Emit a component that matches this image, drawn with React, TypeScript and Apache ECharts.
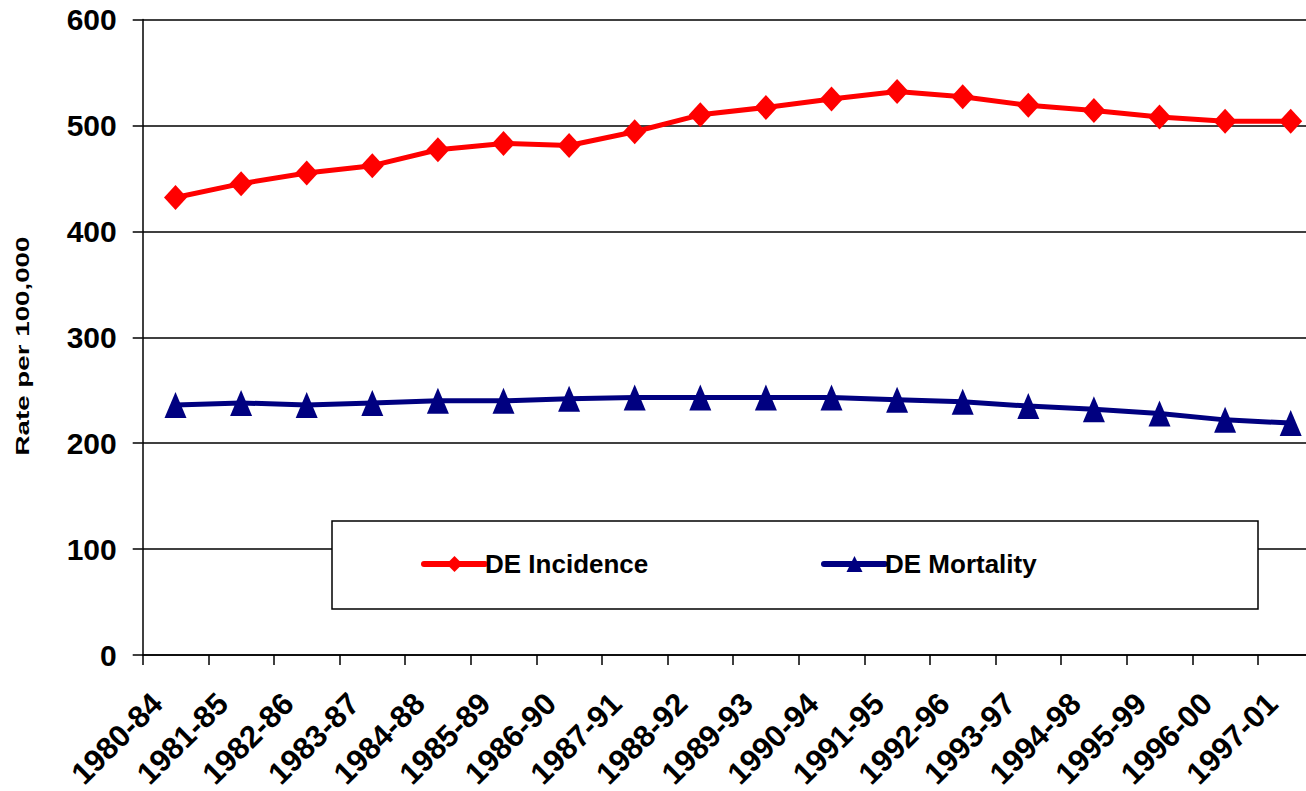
import React, { useEffect, useRef } from "react";
import * as echarts from "echarts";

const categories = [
  "1980-84", "1981-85", "1982-86", "1983-87", "1984-88", "1985-89",
  "1986-90", "1987-91", "1988-92", "1989-93", "1990-94", "1991-95",
  "1992-96", "1993-97", "1994-98", "1995-99", "1996-00", "1997-01",
];

const incidence = [432, 445, 455, 462, 477, 483, 481, 494, 510, 517, 525, 532, 527, 519, 514, 508, 504, 504];
const mortality = [236, 238, 236, 238, 240, 240, 242, 243, 243, 243, 243, 241, 239, 235, 232, 228, 222, 219];

const yTicks = { min: 0, max: 600, interval: 100 };
const FONT = "'Liberation Sans', Arial, Helvetica, sans-serif";

export default function App() {
  const ref = useRef<HTMLDivElement>(null);

  useEffect(() => {
    if (!ref.current) return;
    const chart = echarts.init(ref.current, null, { renderer: "svg" });
    const legendBase = {
      top: 551,
      padding: 0,
      itemWidth: 61,
      itemHeight: 20,
      itemGap: 5,
      z: 6,
      lineStyle: { width: 6, cap: "round" },
      textStyle: { color: "#000", fontSize: 26, fontWeight: "bold", fontFamily: FONT, padding: [0, 0, 0, -5] },
    };
    chart.setOption({
      animation: false,
      backgroundColor: "#ffffff",
      grid: {
        left: 142.7,
        width: 1180.8,
        top: 19.5,
        height: 635.5,
        containLabel: false,
        outerBoundsMode: "none",
      },
      xAxis: {
        type: "category",
        data: categories,
        boundaryGap: true,
        axisLine: { show: true, lineStyle: { color: "#000", width: 1.5 } },
        axisTick: { show: true, length: 10, interval: 0, alignWithLabel: false, lineStyle: { color: "#000", width: 1.5 } },
        axisLabel: {
          interval: 0,
          rotate: 45,
          margin: 25,
          padding: [0, 26, 0, 0],
          color: "#000",
          fontSize: 31,
          fontWeight: "bold",
          fontFamily: FONT,
          hideOverlap: false,
        },
        splitLine: { show: false },
      },
      yAxis: {
        type: "value",
        min: yTicks.min,
        max: yTicks.max,
        interval: yTicks.interval,
        axisLine: { show: true, lineStyle: { color: "#000", width: 1.5 } },
        axisTick: { show: true, length: 10, lineStyle: { color: "#000", width: 1.5 } },
        axisLabel: {
          margin: 26,
          color: "#000",
          fontSize: 30,
          fontWeight: "bold",
          fontFamily: FONT,
        },
        splitLine: { show: true, lineStyle: { color: "#000", width: 1.5 } },
      },
      legend: [
        { ...legendBase, data: ["DE Incidence"], left: 421 },
        { ...legendBase, data: ["DE Mortality"], left: 821 },
      ],
      graphic: [
        {
          type: "rect",
          z: 5,
          shape: { x: 332, y: 521, width: 926, height: 88 },
          style: { fill: "#fff", stroke: "#000", lineWidth: 1.5 },
        },
        {
          type: "text",
          x: 22,
          y: 346,
          rotation: Math.PI / 2,
          scaleX: 1.46,
          style: {
            text: "Rate per 100,000",
            fill: "#000",
            font: `bold 19px ${FONT}`,
            align: "center",
            verticalAlign: "middle",
          },
        },
      ],
      series: [
        {
          name: "DE Incidence",
          type: "line",
          data: incidence,
          symbol: "diamond",
          symbolSize: [23, 25],
          lineStyle: { color: "#ff0000", width: 5 },
          itemStyle: { color: "#ff0000" },
          z: 3,
        },
        {
          name: "DE Mortality",
          type: "line",
          data: mortality,
          symbol: "triangle",
          symbolSize: [22, 26],
          lineStyle: { color: "#000080", width: 5 },
          itemStyle: { color: "#000080" },
          z: 3,
        },
      ],
    });
    return () => chart.dispose();
  }, []);

  return (
    <div
      style={{
        position: "fixed",
        left: 0,
        top: 0,
        width: 1306,
        height: 791,
        overflow: "hidden",
        background: "#fff",
      }}
    >
      <div ref={ref} style={{ width: 1330, height: 791 }} />
    </div>
  );
}
